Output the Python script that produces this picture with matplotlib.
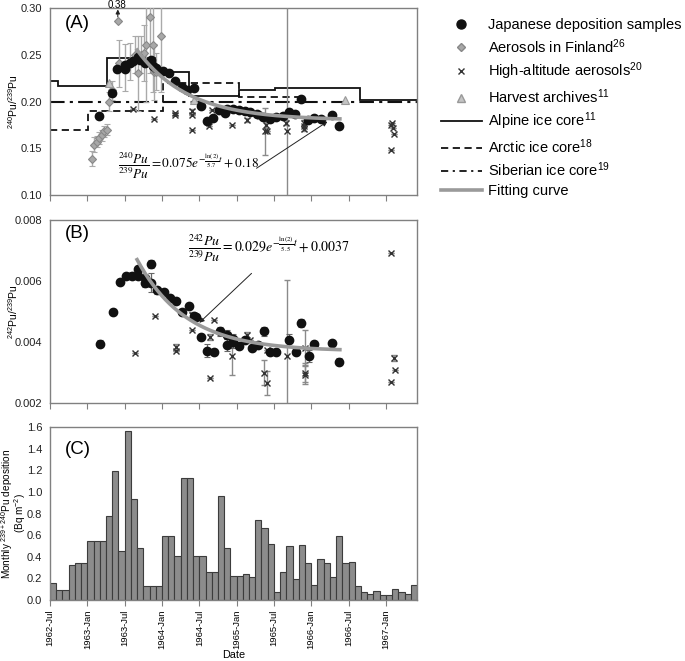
import numpy as np
import matplotlib
matplotlib.use("Agg")
import matplotlib.pyplot as plt
from matplotlib.lines import Line2D

plt.rcParams['font.family'] = ['Liberation Sans', 'DejaVu Sans']
plt.rcParams['mathtext.fontset'] = 'custom'
plt.rcParams['mathtext.rm'] = 'Liberation Sans'
plt.rcParams['mathtext.it'] = 'Liberation Sans:italic'
plt.rcParams['mathtext.bf'] = 'Liberation Sans:bold'

# ---------------- data ----------------
tick_months = [0, 6, 12, 18, 24, 30, 36, 42, 48, 54]
tick_labels = ['1962-Jul', '1963-Jan', '1963-Jul', '1964-Jan', '1964-Jul',
               '1965-Jan', '1965-Jul', '1966-Jan', '1966-Jul', '1967-Jan']

# Panel A: 240Pu/239Pu
jp_a_month = [7.9, 10.0, 10.8, 12.0, 12.1, 12.9, 13.3, 14.1, 14.4, 15.3, 16.2, 16.5, 17.1,
              18.1, 19.2, 20.1, 21.2, 22.1, 23.2, 24.3, 25.2, 26.2, 27.2, 28.2, 28.5, 29.4,
              30.4, 31.3, 32.2, 33.2, 34.3, 35.4, 36.3, 37.4, 38.5, 39.4, 40.4, 41.4, 42.5,
              43.5, 45.4, 46.5]
jp_a_ratio = [0.185, 0.209, 0.235, 0.239, 0.235, 0.241, 0.243, 0.248, 0.244, 0.241, 0.244,
              0.238, 0.236, 0.233, 0.230, 0.222, 0.215, 0.212, 0.214, 0.195, 0.179, 0.182,
              0.191, 0.1875, 0.192, 0.192, 0.191, 0.190, 0.189, 0.1865, 0.183, 0.181, 0.183,
              0.184, 0.189, 0.1865, 0.2025, 0.180, 0.182, 0.181, 0.186, 0.174]

fi_month = [6.7, 7.1, 7.5, 7.9, 8.3, 8.7, 9.1, 9.5, 10.0, 10.9, 11.1, 12.1, 12.9, 13.7,
            14.1, 14.6, 15.1, 15.5, 16.0, 16.5, 16.7, 17.1, 17.8]
fi_ratio = [0.139, 0.154, 0.157, 0.161, 0.164, 0.168, 0.170, 0.200, 0.212, 0.286, 0.241,
            0.236, 0.243, 0.250, 0.230, 0.250, 0.252, 0.260, 0.290, 0.260, 0.232, 0.232, 0.270]
fi_err = [0.008, 0.008, 0.006, 0.006, 0.006, 0.006, 0.006, 0.010, 0.010, 0.0, 0.025,
          0.025, 0.020, 0.020, 0.040, 0.020, 0.030, 0.060, 0.060, 0.050, 0.030, 0.020, 0.060]

ha_a_month = [13.4, 16.7, 20.1, 20.1, 22.8, 22.8, 22.8, 25.5, 26.1, 29.3, 31.6, 34.5, 34.7,
              34.9, 38.0, 38.1, 40.8, 40.8, 40.9, 54.8, 55.0, 55.2, 55.3, 54.9]
ha_a_ratio = [0.1925, 0.181, 0.1875, 0.186, 0.190, 0.186, 0.169, 0.174, 0.191, 0.175,
              0.180, 0.168, 0.175, 0.168, 0.1775, 0.168, 0.177, 0.171, 0.174, 0.175,
              0.177, 0.1714, 0.165, 0.148]
ha_a_err = [0, 0, 0, 0, 0.002, 0, 0, 0, 0, 0, 0.002, 0.025, 0.003, 0, 0.003, 0.15, 0.003,
            0.003, 0, 0, 0, 0, 0, 0]

hv_month = [9.5, 23.2, 33.9, 47.5]
hv_ratio = [0.220, 0.2018, 0.186, 0.2018]

alpine_edges = [0, 1.3, 9.1, 17.0, 22.4, 30.4, 36.1, 49.8, 59]
alpine_vals = [0.2214, 0.2168, 0.2467, 0.232, 0.206, 0.2125, 0.2143, 0.2018]
arctic_edges = [0, 6.05, 18.2, 30.4, 41.0]
arctic_vals = [0.170, 0.190, 0.220, 0.205]
siberian_val = 0.200

# Panel B: 242Pu/239Pu
jp_b_month = [8.1, 10.2, 11.2, 12.2, 13.2, 14.2, 14.2, 15.3, 15.3, 16.2, 16.2, 17.2, 18.3,
              19.3, 20.2, 21.3, 22.3, 23.2, 23.4, 24.3, 25.3, 26.4, 27.3, 28.4, 28.4, 29.4,
              29.4, 30.4, 31.4, 32.4, 33.4, 34.4, 35.4, 36.4, 38.5, 39.5, 40.4, 41.6, 42.5,
              45.4, 46.5]
jp_b_ratio = [0.00394, 0.00499, 0.00596, 0.00615, 0.00618, 0.00618, 0.00640, 0.00609,
              0.00595, 0.00656, 0.00595, 0.00569, 0.00565, 0.00544, 0.00535, 0.00497,
              0.00517, 0.00484, 0.00483, 0.00415, 0.00372, 0.00368, 0.00435, 0.00424,
              0.00391, 0.00411, 0.00401, 0.00388, 0.00407, 0.00379, 0.00391, 0.00435,
              0.00367, 0.00367, 0.00407, 0.00367, 0.00462, 0.00353, 0.00393, 0.00396, 0.00336]
jp_b_err = [0.00012, 0.0001, 0.0001, 0.0001, 0.00012, 0.0001, 0.0001, 0.0001, 0.00015,
            0.00012, 0.0003, 0.0001, 0.0001, 0.0001, 0.0001, 0.0001, 0.0001, 0.0001,
            0.0001, 0.0001, 0.0002, 0.0001, 0.00015, 0.00015, 0.0002, 0.00015, 0.0002,
            0.0001, 0.0001, 0.0001, 0.0001, 0.00015, 0.0001, 0.0001, 0.0002, 0.0001,
            0.00012, 0.0002, 0.0001, 0.0001, 0.0001]

ha_b_month = [13.7, 16.9, 20.2, 20.2, 22.9, 22.9, 25.7, 25.7, 26.3, 29.3, 31.6, 32.1,
              34.4, 34.9, 34.9, 38.1, 41.0, 41.0, 41.0, 54.9, 55.3, 55.4, 54.9]
ha_b_ratio = [0.00364, 0.00484, 0.00385, 0.00371, 0.0044, 0.00489, 0.00415, 0.00282,
              0.00473, 0.00353, 0.00424, 0.00407, 0.0030, 0.00265, 0.00375, 0.00353,
              0.0038, 0.0030, 0.00293, 0.00691, 0.00347, 0.00309, 0.00268]
ha_b_err = [0, 0, 0.0001, 0, 0, 0.0001, 0.0001, 0, 0, 0.0006, 0.0001, 0, 0.0004, 0.0004,
            0, 0.0025, 0.0006, 0.0003, 0.0003, 0, 0.0001, 0, 0]

# Panel C: monthly deposition (Bq m-2), July 1962 onwards
deposition = [0.16, 0.09, 0.09, 0.32, 0.34, 0.34, 0.55, 0.55, 0.55, 0.78, 1.19, 0.45,
              1.56, 0.93, 0.48, 0.13, 0.13, 0.13, 0.59, 0.59, 0.41, 1.13, 1.13, 0.41,
              0.41, 0.26, 0.26, 0.96, 0.48, 0.22, 0.22, 0.24, 0.21, 0.74, 0.67, 0.52,
              0.07, 0.26, 0.50, 0.19, 0.51, 0.34, 0.14, 0.38, 0.34, 0.21, 0.59, 0.34,
              0.35, 0.13, 0.07, 0.06, 0.08, 0.05, 0.05, 0.10, 0.07, 0.06, 0.14]

# fitting curves (given in the chart)
fitA = dict(a=0.075, half=5.7, c=0.18, start=14.0, end=46.6, t0=14.0)
fitB = dict(a=0.029, half=5.5, c=0.0037, start=14.0, end=46.6, t0=-4.0)

# ---------------- style ----------------
W, H = 685, 661
fig = plt.figure(figsize=(W / 100, H / 100), dpi=100)
axA = fig.add_axes([50 / W, 1 - 195 / H, 367 / W, 187 / H])
axB = fig.add_axes([50 / W, 1 - 403 / H, 367 / W, 183 / H])
axC = fig.add_axes([50 / W, 1 - 600 / H, 367 / W, 173 / H])

spine_c = '#808080'
err_c = '#8a8a8a'
tick_fs = 8
ylab_x = -0.082

for ax in (axA, axB, axC):
    for s in ax.spines.values():
        s.set_color(spine_c)
        s.set_linewidth(1.0)
    ax.set_xlim(0, 59)
    ax.set_xticks(tick_months)
    ax.tick_params(axis='x', direction='out', length=4, color=spine_c, width=0.8)
    ax.tick_params(axis='y', length=0, labelsize=tick_fs, pad=5.5, labelcolor='#222222')

axA.set_xticklabels([])
axB.set_xticklabels([])

# ---- Panel A ----
axA.set_ylim(0.10, 0.30)
axA.set_yticks([0.10, 0.15, 0.20, 0.25, 0.30])
axA.set_yticklabels(['0.10', '0.15', '0.20', '0.25', '0.30'])

axA.stairs(alpine_vals, alpine_edges, color='#111111', lw=1.3, baseline=None)
axA.stairs(arctic_vals, arctic_edges, color='#111111', lw=1.3, baseline=None,
           linestyle=(0, (4, 2.5)))
axA.plot([0, 59], [siberian_val, siberian_val], color='#111111', lw=1.5,
         linestyle=(0, (7, 2.5, 1.5, 2.5)))

axA.errorbar(fi_month, fi_ratio, yerr=fi_err, fmt='D', ms=4.3, mfc='#a8a8a8', mec='#888888',
             mew=0.8, ecolor='#aaaaaa', elinewidth=1.0, capsize=2, capthick=0.8, zorder=3)
axA.errorbar(ha_a_month, ha_a_ratio, yerr=ha_a_err, fmt='x', ms=4.5, mec='#333333',
             mew=1.0, ecolor=err_c, elinewidth=1.0, capsize=2, capthick=0.8, zorder=3)
axA.plot(hv_month, hv_ratio, '^', ms=6, mfc='#c4c4c4', mec='#999999', mew=0.8, zorder=4)
axA.plot(jp_a_month, jp_a_ratio, 'o', ms=6, color='#111111', zorder=5)

tA = np.linspace(fitA['start'], fitA['end'], 200)
axA.plot(tA, fitA['a'] * np.exp(-np.log(2) / fitA['half'] * (tA - fitA['t0'])) + fitA['c'],
         color='#9a9a9a', lw=2.6, zorder=6)

axA.text(2.4, 0.292, '(A)', fontsize=13.5, va='top', ha='left')
axA.set_ylabel(r'$^{240}$Pu/$^{239}$Pu', fontsize=7.5)
axA.yaxis.set_label_coords(ylab_x, 0.5)
axA.annotate('', xy=(10.9, 0.2985), xytext=(10.9, 0.2905),
             arrowprops=dict(arrowstyle='-|>', color='#222222', lw=0.8, mutation_scale=6,
                             shrinkA=0, shrinkB=0),
             annotation_clip=False)
fig.text(117 / W, 1.0, '0.38', ha='center', va='top', fontsize=7)

axA.text(22.3, 0.131,
         r'$\dfrac{^{240}Pu}{^{239}Pu} = 0.075e^{-\frac{\ln(2)}{5.7}t} + 0.18$',
         math_fontfamily='stix', fontsize=9.5, ha='center', va='center')
axA.annotate('', xy=(44.6, 0.1785), xytext=(33.2, 0.1286),
             arrowprops=dict(arrowstyle='-|>', color='#222222', lw=0.7, mutation_scale=7,
                             shrinkA=0, shrinkB=0))

# ---- Panel B ----
axB.set_ylim(0.002, 0.008)
axB.set_yticks([0.002, 0.004, 0.006, 0.008])
axB.set_yticklabels(['0.002', '0.004', '0.006', '0.008'])
axB.errorbar(ha_b_month, ha_b_ratio, yerr=ha_b_err, fmt='x', ms=4.5, mec='#333333',
             mew=1.0, ecolor=err_c, elinewidth=1.0, capsize=2, capthick=0.8, zorder=3)
axB.errorbar(jp_b_month, jp_b_ratio, yerr=jp_b_err, fmt='o', ms=6, color='#111111',
             ecolor='#666666', elinewidth=0.9, capsize=2, capthick=0.8, zorder=5)
tB = np.linspace(fitB['start'], fitB['end'], 200)
axB.plot(tB, fitB['a'] * np.exp(-np.log(2) / fitB['half'] * (tB - fitB['t0'])) + fitB['c'],
         color='#9a9a9a', lw=2.6, zorder=6)
axB.text(2.4, 0.00785, '(B)', fontsize=13.5, va='top', ha='left')
axB.set_ylabel(r'$^{242}$Pu/$^{239}$Pu', fontsize=7.5)
axB.yaxis.set_label_coords(ylab_x, 0.5)
axB.text(35.2, 0.00708,
         r'$\dfrac{^{242}Pu}{^{239}Pu} = 0.029e^{-\frac{\ln(2)}{5.5}t} + 0.0037$',
         math_fontfamily='stix', fontsize=10, ha='center', va='center')
axB.annotate('', xy=(24.0, 0.00463), xytext=(32.4, 0.00625),
             arrowprops=dict(arrowstyle='-|>', color='#222222', lw=0.7, mutation_scale=7,
                             shrinkA=0, shrinkB=0))

# ---- Panel C ----
months = np.arange(len(deposition))
axC.bar(months + 0.5, deposition, width=1.0, color='#8c8c8c', edgecolor='#3c3c3c',
        linewidth=0.8)
axC.set_ylim(0, 1.6)
axC.set_yticks(np.arange(0, 1.61, 0.2))
axC.set_yticklabels([f'{v:.1f}' for v in np.arange(0, 1.61, 0.2)])
axC.set_xticklabels(tick_labels, rotation=90, fontsize=6.8)
axC.tick_params(axis='x', pad=3)
axC.text(2.4, 1.47, '(C)', fontsize=13.5, va='top', ha='left')
yc = 1 - 513.5 / H
fig.text(7 / W, yc, 'Monthly $^{239+240}$Pu deposition', rotation=90, ha='center',
         va='center', fontsize=7.2)
fig.text(20.5 / W, yc, '(Bq m$^{-2}$)', rotation=90, ha='center', va='center', fontsize=7.2)
axC.set_xlabel('Date', fontsize=7.8)
axC.xaxis.set_label_coords(0.5, -0.29)

# ---- Legend ----
handles = [
    Line2D([], [], ls='none', marker='o', ms=6.5, color='#111111'),
    Line2D([], [], ls='none', marker='D', ms=4.5, mfc='#a8a8a8', mec='#888888'),
    Line2D([], [], ls='none', marker='x', ms=4.5, mec='#333333', mew=1.0),
    Line2D([], [], ls='none', marker='^', ms=6, mfc='#c4c4c4', mec='#999999'),
    Line2D([], [], color='#111111', lw=1.3),
    Line2D([], [], color='#111111', lw=1.3, ls=(0, (4, 2.5))),
    Line2D([], [], color='#111111', lw=1.3, ls=(0, (4, 2.5, 1.2, 2.5))),
    Line2D([], [], color='#9a9a9a', lw=2.6),
]
labels = ['Japanese deposition samples', 'Aerosols in Finland$^{26}$',
          'High-altitude aerosols$^{20}$', 'Harvest archives$^{11}$',
          'Alpine ice core$^{11}$', 'Arctic ice core$^{18}$',
          'Siberian ice core$^{19}$', 'Fitting curve']
fig.legend(handles, labels, loc='upper left', bbox_to_anchor=(441 / W, 1 - 18 / H),
           frameon=False, fontsize=10.5, handlelength=2.8, handletextpad=0.45,
           labelspacing=0.34, borderaxespad=0, borderpad=0)

fig.savefig('out.png', dpi=100)
